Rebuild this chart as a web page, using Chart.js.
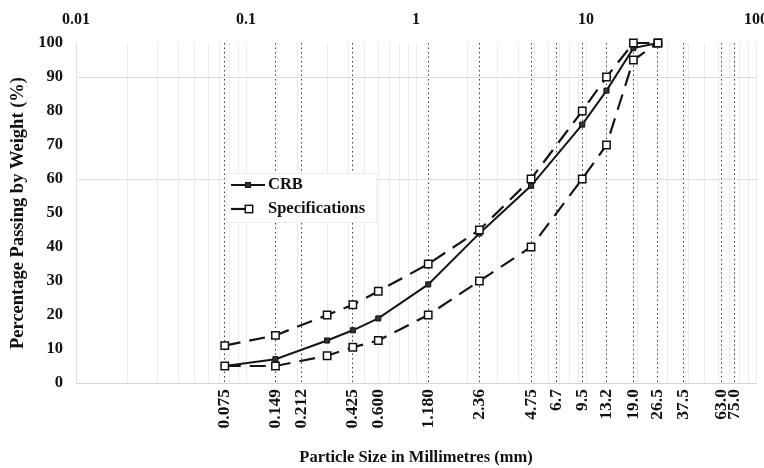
<!DOCTYPE html>
<html>
<head>
<meta charset="utf-8">
<title>Particle size distribution</title>
<script src="https://cdn.jsdelivr.net/npm/chart.js@4.4.0/dist/chart.umd.min.js"></script>
<style>
  html, body { margin: 0; padding: 0; background: #fff; }
</style>
</head>
<body>
<canvas id="gradingChart" width="764" height="468"></canvas>
<script>
// sieve sizes (mm) marked with dotted lines on the bottom axis
const sieveSizes = [0.075, 0.149, 0.212, 0.3, 0.425, 0.6, 1.18, 2.36, 4.75, 6.7, 9.5, 13.2, 19.0, 26.5, 37.5, 63.0, 75.0];
const sieveLabels = ['0.075', '0.149', '0.212', '', '0.425', '0.600', '1.180', '2.36', '4.75', '6.7', '9.5', '13.2', '19.0', '26.5', '37.5', '63.0', '75.0'];

// decade labels on the top axis
const decadeTicks = [0.01, 0.1, 1, 10, 100];
const decadeLabels = ['0.01', '0.1', '1', '10', '100'];

// horizontal grid lines that show in the picture
const yGridValues = [60, 90];

// grading data
const testSizes = [0.075, 0.149, 0.3, 0.425, 0.6, 1.18, 2.36, 4.75, 9.5, 13.2, 19.0, 26.5];
const crbPassing = [5, 7, 12.5, 15.5, 19, 29, 44, 58, 76, 86, 98.5, 100];
const specUpper = [11, 14, 20, 23, 27, 35, 45, 60, 80, 90, 100, 100];
const specLower = [5, 5, 8, 10.5, 12.5, 20, 30, 40, 60, 70, 95, 100];

// light log grid: 1..9 in every decade
const minorGrid = [];
decadeTicks.slice(0, -1).forEach(d => {
  for (let m = 1; m <= 9; m++) minorGrid.push(d * m);
});
minorGrid.push(100);

const serif = '"Liberation Serif", "Times New Roman", serif';
const toPoints = (xs, ys) => xs.map((x, i) => ({ x: x, y: ys[i] }));

const insideLegend = {
  id: 'insideLegend',
  afterDatasetsDraw(chart) {
    const ctx = chart.ctx;
    const sets = chart.data.datasets.filter(d => !d.hideInLegend);
    ctx.save();
    ctx.fillStyle = '#fff';
    ctx.fillRect(226, 173, 150, 49);
    ctx.strokeStyle = '#efefef';
    ctx.lineWidth = 1;
    ctx.strokeRect(226.5, 173.5, 150, 49);

    sets.forEach((ds, i) => {
      const y = 185 + i * 24;
      ctx.strokeStyle = ds.borderColor;
      ctx.lineWidth = ds.borderWidth;
      ctx.beginPath();
      ctx.moveTo(231, y);
      ctx.lineTo(ds.borderDash ? 246 : 265, y);
      ctx.stroke();
      const mx = ds.borderDash ? 249 : 248;
      ctx.fillStyle = ds.pointBackgroundColor;
      ctx.strokeStyle = ds.pointBorderColor;
      ctx.lineWidth = ds.pointBorderWidth;
      const s = ds.pointRadius * Math.SQRT1_2;
      ctx.fillRect(mx - s, y - s, 2 * s, 2 * s);
      ctx.strokeRect(mx - s, y - s, 2 * s, 2 * s);

      ctx.fillStyle = '#111';
      ctx.font = 'bold 16.5px ' + serif;
      ctx.textBaseline = 'middle';
      ctx.textAlign = 'left';
      ctx.fillText(ds.label, 268, y);
    });
    ctx.restore();
  }
};

const ctx = document.getElementById('gradingChart').getContext('2d');
const chart = new Chart(ctx, {
  type: 'line',
  data: {
    datasets: [
      {
        label: 'CRB',
        data: toPoints(testSizes, crbPassing),
        order: 2,
        borderColor: '#151515',
        borderWidth: 2,
        pointStyle: 'rect',
        pointRadius: 3.6,
        pointBorderWidth: 1,
        pointBackgroundColor: '#333',
        pointBorderColor: '#111',
        tension: 0,
        clip: false
      },
      {
        label: 'Specifications',
        data: toPoints(testSizes, specUpper),
        order: 1,
        borderColor: '#151515',
        borderWidth: 2.2,
        borderDash: [16, 9],
        pointStyle: 'rect',
        pointRadius: 5.2,
        pointBorderWidth: 1.5,
        pointBackgroundColor: '#fff',
        pointBorderColor: '#111',
        tension: 0,
        clip: false
      },
      {
        label: 'Specifications',
        hideInLegend: true,
        data: toPoints(testSizes, specLower),
        order: 1,
        borderColor: '#151515',
        borderWidth: 2.2,
        borderDash: [16, 9],
        pointStyle: 'rect',
        pointRadius: 5.2,
        pointBorderWidth: 1.5,
        pointBackgroundColor: '#fff',
        pointBorderColor: '#111',
        tension: 0,
        clip: false
      }
    ]
  },
  options: {
    responsive: false,
    animation: false,
    devicePixelRatio: 1,
    layout: { padding: { left: 0, right: 8, top: 0, bottom: 0 } },
    plugins: {
      legend: { display: false },
      tooltip: { enabled: false }
    },
    scales: {
      x: {
        type: 'logarithmic',
        position: 'bottom',
        min: 0.01,
        max: 100,
        afterBuildTicks: s => { s.ticks = sieveSizes.map(v => ({ value: v })); },
        afterFit: s => { s.height = 85; s.paddingLeft = 0; s.paddingRight = 0; },
        ticks: {
          autoSkip: false,
          minRotation: 90,
          maxRotation: 90,
          padding: 6,
          color: '#111',
          font: { family: serif, size: 17.5, weight: 'bold' },
          callback: (v, i) => sieveLabels[i]
        },
        grid: { color: '#3a3a3a', lineWidth: 1, drawTicks: false },
        border: { display: true, color: '#d6d6d6', dash: [1.5, 3] },
        title: {
          display: true,
          text: 'Particle Size in Millimetres (mm)',
          color: '#111',
          font: { family: serif, size: 16.5, weight: 'bold' },
          padding: { top: 0, bottom: 0 }
        }
      },
      x2: {
        type: 'logarithmic',
        position: 'top',
        min: 0.01,
        max: 100,
        afterBuildTicks: s => { s.ticks = minorGrid.map(v => ({ value: v })); },
        afterFit: s => { s.height = 43; s.paddingLeft = 0; s.paddingRight = 0; },
        ticks: {
          autoSkip: false,
          maxRotation: 0,
          padding: 14,
          color: '#111',
          font: { family: serif, size: 16, weight: 'bold' },
          callback: v => {
            const i = decadeTicks.findIndex(d => Math.abs(d - v) < d * 1e-6);
            return i >= 0 ? decadeLabels[i] : '';
          }
        },
        grid: { color: '#ececec', lineWidth: 1, drawTicks: false },
        border: { display: false }
      },
      y: {
        min: 0,
        max: 100,
        afterFit: s => { s.width = 76; },
        ticks: {
          stepSize: 10,
          padding: 13,
          color: '#111',
          font: { family: serif, size: 16.5, weight: 'bold' }
        },
        grid: {
          drawTicks: false,
          color: c => yGridValues.includes(c.tick && c.tick.value) ? '#dedede' : 'rgba(0,0,0,0)'
        },
        border: { display: true, color: '#e0e0e0' },
        title: {
          display: true,
          text: 'Percentage Passing by Weight (%)',
          color: '#111',
          font: { family: serif, size: 18.5, weight: 'bold' },
          padding: { top: 7, bottom: 0 }
        }
      }
    }
  },
  plugins: [insideLegend]
});
</script>
</body>
</html>
